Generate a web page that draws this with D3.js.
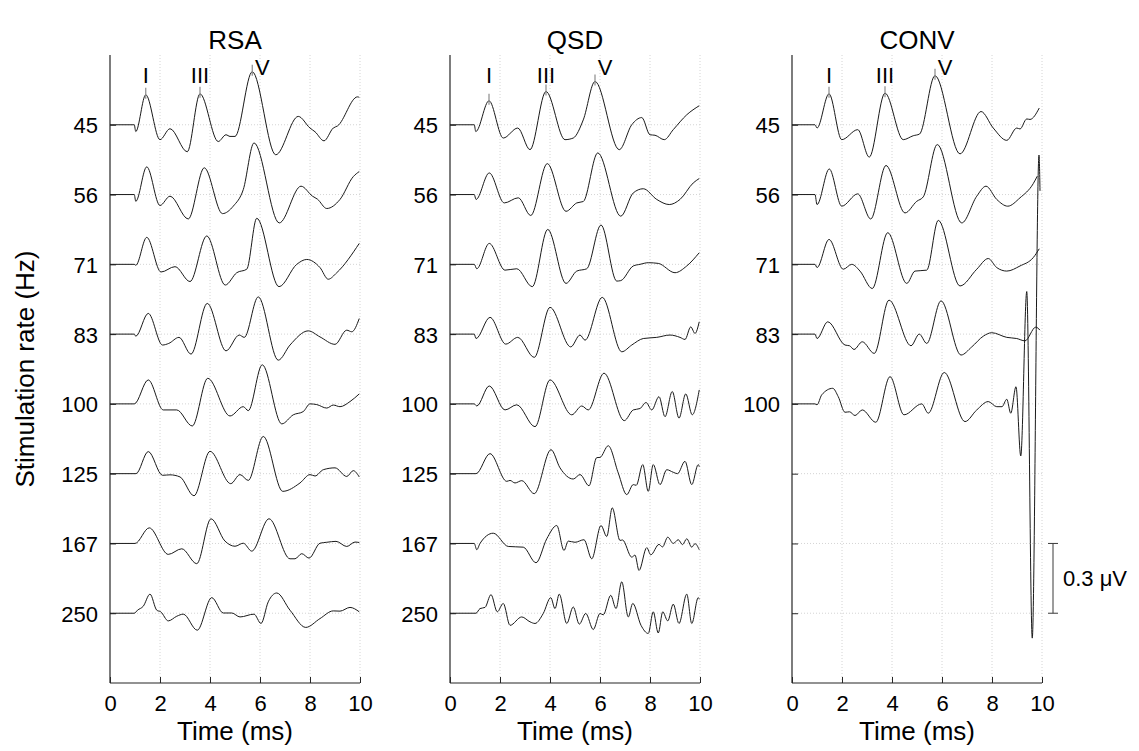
<!DOCTYPE html>
<html><head><meta charset="utf-8">
<script src="https://cdn.jsdelivr.net/npm/d3@7"></script>
<style>
body{margin:0;background:#fff}
svg{display:block}
text{font-family:"Liberation Sans",Arial,Helvetica,sans-serif;fill:#000}
</style>
</head><body>
<svg id="c" width="1139" height="751"></svg>
<script>
// ---------- data ----------
const rates = ["45","56","71","83","100","125","167","250"];
const panelTitles = ["RSA","QSD","CONV"];
const xTickValues = [0,2,4,6,8,10];
const scaleBarMicroVolt = 0.3;
const peakLabels = ["I","III","V"];

// waveforms: [time (ms), amplitude (µV)]
const rsa45 = [[0,0],[0.97,0],[1.03,-.029],[1.43,.129],[2.0,-.064],[2.4,-.017],[3.09,-.116],[3.6,.133],[4.33,-.072],[4.64,-.043],[4.8,-.05],[5.0,-.05],[5.69,.228],[6.63,-.129],[7.53,.036],[8.0,-.014],[8.2,-.03],[8.56,-.069],[8.93,-.014],[9.1,-.005],[9.9,.12],[9.97,.118]];
const rsa56 = [[0,0],[0.97,0],[1.03,-.029],[1.47,.119],[2.0,-.047],[2.4,-.007],[3.13,-.105],[3.77,.115],[4.5,-.082],[4.93,-.05],[5.33,.021],[5.76,.222],[6.77,-.122],[7.64,.036],[8.1,-.007],[8.3,-.02],[8.67,-.06],[9.2,-.021],[9.73,.077],[9.97,.099]];
const rsa71 = [[0,0],[0.97,0],[1.03,-.004],[1.47,.116],[2.04,-.033],[2.6,-.01],[3.2,-.074],[3.87,.122],[4.61,-.089],[5.07,-.036],[5.47,-.021],[5.87,.198],[6.76,-.096],[7.47,0],[7.87,.021],[8.4,-.014],[8.73,-.064],[9.07,-.036],[9.97,.09]];
const rsa83 = [[0,0],[0.97,0],[1.03,-.009],[1.53,.089],[2.1,-.047],[2.35,-.04],[2.76,-.014],[3.24,-.086],[3.89,.132],[4.64,-.072],[5.17,-.004],[5.37,-.014],[5.93,.16],[6.73,-.112],[7.2,-.047],[7.93,.014],[8.4,-.012],[9.0,-.044],[9.47,.017],[9.67,.01],[9.97,.067]];
const rsa100 = [[0,0],[0.97,0],[1.53,.103],[2.13,-.026],[2.67,-.026],[3.29,-.095],[3.91,.11],[4.8,-.052],[5.33,-.012],[5.53,-.029],[6.09,.168],[6.87,-.086],[7.33,-.047],[7.73,-.033],[8.0,0],[8.27,-.003],[8.67,-.018],[8.93,-.005],[9.2,-.012],[9.6,.01],[9.97,.043]];
const rsa125 = [[0,0],[1.04,0],[1.53,.095],[2.1,-.007],[2.4,-.005],[2.8,-.014],[3.36,-.095],[4.0,.096],[4.83,-.043],[5.2,-.004],[5.53,-.029],[6.13,.16],[6.91,-.076],[7.6,-.04],[8.0,-.004],[8.2,-.01],[8.53,.017],[9.0,.025],[9.47,-.012],[9.73,.013],[9.97,-.014]];
const rsa167 = [[0,0],[1.0,0],[1.57,.067],[2.33,-.047],[2.87,-.023],[3.47,-.087],[4.04,.106],[4.6,.01],[5.0,-.012],[5.33,.001],[5.67,-.033],[6.36,.106],[7.2,-.066],[7.4,-.066],[7.67,-.044],[7.96,-.063],[8.4,.001],[8.67,.005],[9.04,.009],[9.47,-.013],[9.8,.006],[9.97,.004]];
const rsa250 = [[0,0],[0.97,0],[1.1,.013],[1.33,.03],[1.6,.082],[1.87,.013],[2.03,.006],[2.33,-.033],[2.67,-.013],[2.93,-.004],[3.49,-.073],[4.07,.067],[4.53,.001],[4.87,.001],[5.2,-.016],[5.76,-.004],[6.04,-.044],[6.33,.049],[6.67,.087],[7.2,.013],[7.83,-.061],[8.4,-.023],[8.93,.01],[9.2,.009],[9.6,.025],[9.97,.006]];

const qsd45 = [[0,0],[0.97,0],[1.03,-.029],[1.56,.103],[2.13,-.057],[2.71,-.014],[3.2,-.107],[3.84,.143],[4.6,-.064],[4.93,-.057],[5.33,.021],[5.8,.186],[6.77,-.107],[7.27,0],[7.67,.031],[8.0,-.043],[8.2,-.045],[8.57,-.064],[8.93,-.021],[9.47,.043],[9.97,.082]];
const qsd56 = [[0,0],[0.97,0],[1.04,-.021],[1.57,.093],[2.17,-.036],[2.73,-.014],[3.23,-.09],[3.89,.133],[4.64,-.072],[5.07,-.036],[5.33,-.03],[5.91,.179],[6.83,-.093],[7.33,.007],[7.73,.025],[8.27,-.021],[8.77,-.043],[9.2,-.021],[9.73,.05],[9.97,.069]];
const qsd71 = [[0,0],[0.97,0],[1.07,-.019],[1.57,.09],[2.2,-.025],[2.67,-.019],[3.29,-.096],[3.91,.15],[4.64,-.082],[5.07,-.029],[5.47,-.019],[6.04,.169],[6.67,-.072],[6.83,-.07],[7.33,-.007],[7.6,0],[7.93,.007],[8.33,.004],[9.0,-.036],[9.47,-.007],[9.97,.05]];
const qsd83 = [[0,0],[0.97,0],[1.04,-.019],[1.6,.072],[2.23,-.043],[2.71,-.014],[3.37,-.1],[4.0,.115],[4.83,-.055],[5.2,-.004],[5.4,-.026],[6.09,.158],[6.87,-.076],[7.27,-.047],[7.73,-.019],[8.27,-.014],[8.8,-.004],[9.2,-.014],[9.4,-.023],[9.63,.031],[9.8,.003],[9.97,.053]];
const qsd100 = [[0,0],[0.97,0],[1.07,-.009],[1.57,.077],[2.2,-.026],[2.67,-.004],[3.4,-.098],[4.0,.103],[4.87,-.047],[5.27,-.009],[5.53,-.026],[6.16,.132],[6.97,-.072],[7.33,-.026],[7.6,-.02],[7.84,.006],[8.07,-.026],[8.36,.031],[8.6,-.055],[8.89,.053],[9.16,-.061],[9.43,.043],[9.69,-.047],[9.97,.06]];
const qsd125 = [[0,0],[1.04,0],[1.6,.086],[2.27,-.033],[2.4,-.029],[2.6,-.04],[2.87,-.03],[3.37,-.086],[4.04,.103],[4.4,.025],[4.93,-.023],[5.2,-.004],[5.56,-.052],[5.87,.069],[6.0,.07],[6.33,.12],[6.73,.003],[7.07,-.09],[7.33,-.047],[7.45,-.05],[7.71,.039],[7.93,-.076],[8.13,.039],[8.4,-.047],[8.67,.017],[8.93,.006],[9.1,0],[9.4,.053],[9.67,-.047],[9.93,.039],[9.97,.03]];
const qsd167 = [[0,0],[0.97,0],[1.07,-.027],[1.2,0],[1.73,.044],[2.33,-.013],[2.93,-.016],[3.44,-.083],[3.87,.02],[4.27,.077],[4.56,-.03],[4.73,.01],[5.0,.005],[5.36,.016],[5.67,-.066],[6.04,.077],[6.27,.03],[6.49,.153],[6.8,.013],[6.9,.015],[7.27,-.059],[7.4,-.05],[7.56,-.116],[7.87,-.018],[8.03,-.049],[8.36,-.004],[8.5,-.015],[8.71,.027],[8.93,0],[9.13,.016],[9.3,-.005],[9.47,.02],[9.67,-.016],[9.8,-.001],[9.97,-.027]];
const qsd250 = [[0,0],[1.04,0],[1.2,.02],[1.4,.025],[1.64,.08],[1.89,.006],[2.13,.042],[2.4,-.052],[2.87,-.016],[3.2,-.037],[3.4,-.044],[3.73,-.001],[4.03,.067],[4.2,.02],[4.37,.082],[4.67,-.044],[4.93,.027],[5.17,-.047],[5.43,-.001],[5.73,-.07],[6.0,-.001],[6.13,-.007],[6.43,.077],[6.64,.02],[6.87,.135],[7.13,-.016],[7.31,.042],[7.64,-.052],[7.93,-.087],[8.13,.006],[8.33,-.085],[8.51,.006],[8.71,-.033],[8.93,.039],[9.16,-.044],[9.47,.082],[9.67,-.044],[9.93,.067],[9.97,.06]];

const conv45 = [[0,0],[0.92,0],[1.0,-.014],[1.48,.133],[1.99,-.064],[2.63,-.021],[3.09,-.139],[3.72,.136],[4.45,-.064],[4.85,-.047],[5.1,-.04],[5.72,.211],[6.72,-.125],[7.56,.057],[8.05,-.014],[8.59,-.067],[8.99,-.014],[9.12,-.018],[9.39,.025],[9.52,.023],[9.89,.072]];
const conv56 = [[0,0],[0.92,0],[1.0,-.043],[1.49,.11],[1.99,-.05],[2.63,.003],[3.15,-.105],[3.76,.125],[4.52,-.079],[4.99,-.029],[5.25,-.01],[5.81,.215],[6.79,-.122],[7.39,-.007],[7.76,.036],[8.19,-.021],[8.63,-.05],[9.12,-.014],[9.65,.047],[9.81,.079]];
const conv71 = [[0,0],[0.92,0],[1.0,-.014],[1.48,.107],[2.05,-.021],[2.39,0],[2.72,-.029],[3.21,-.104],[3.83,.136],[4.59,-.082],[4.92,-.029],[5.39,-.025],[5.85,.189],[6.72,-.093],[7.39,-.021],[7.85,.025],[8.19,-.014],[8.59,-.029],[9.12,-.007],[9.65,.029],[9.89,.067]];
const conv83 = [[0,0],[0.92,0],[1.0,-.019],[1.43,.053],[2.12,-.047],[2.3,-.05],[2.48,-.066],[2.81,-.033],[3.29,-.083],[3.88,.146],[4.76,-.05],[5.09,0],[5.39,-.04],[5.96,.143],[6.76,-.09],[7.19,-.055],[7.65,-.009],[7.99,.006],[8.59,-.014],[8.99,-.019],[9.32,-.029],[9.75,.03],[9.92,.017]];
const conv100 = [[0,0],[0.92,0],[1.0,-.004],[1.19,.039],[1.63,.067],[1.85,.031],[2.12,-.036],[2.3,-.034],[2.52,-.05],[2.81,-.026],[3.35,-.079],[3.92,.117],[4.48,-.047],[5.19,0],[5.45,-.04],[6.09,.135],[6.92,-.076],[7.39,-.026],[7.85,.01],[8.19,-.012],[8.4,-.012],[8.59,.02],[8.75,-.04],[8.96,.074],[9.15,-.224],[9.39,.483],[9.61,-1.007],[9.88,1.07],[9.92,.916]];

const rsaSeries = [rsa45,rsa56,rsa71,rsa83,rsa100,rsa125,rsa167,rsa250];
const qsdSeries = [qsd45,qsd56,qsd71,qsd83,qsd100,qsd125,qsd167,qsd250];
const convSeries = [conv45,conv56,conv71,conv83,conv100];

// latencies (ms) of waves I, III, V marked on the 45 Hz trace
const rsaPeaks = [1.43,3.6,5.69];
const qsdPeaks = [1.56,3.84,5.8];
const convPeaks = [1.48,3.72,5.72];

// ---------- drawing ----------
const svg = d3.select("#c");
const plotTop = 55, plotBottom = 683;
const panelLeft = [110, 450, 792];
const panelW = 250;
const y = d3.scaleLinear().domain([0, rates.length + 1]).range([plotTop, plotBottom]);
const axisColor = "#262626";
const gridColor = "#d4d4d4";
const tickFont = 22, labelFont = 26;

const panelData = [
  {title: panelTitles[0], series: rsaSeries, peaks: rsaPeaks, showAllLabels: true},
  {title: panelTitles[1], series: qsdSeries, peaks: qsdPeaks, showAllLabels: true},
  {title: panelTitles[2], series: convSeries, peaks: convPeaks, showAllLabels: false}
];

panelData.forEach((p, pi) => {
  const x = d3.scaleLinear().domain([0, 10]).range([panelLeft[pi], panelLeft[pi] + panelW]);
  const g = svg.append("g");

  // grid
  g.append("g").selectAll("line").data(xTickValues.filter(v => v > 0)).join("line")
    .attr("x1", d => x(d)).attr("x2", d => x(d)).attr("y1", plotTop).attr("y2", plotBottom)
    .attr("stroke", gridColor).attr("stroke-width", 1).attr("stroke-dasharray", "1,2");
  g.append("g").selectAll("line").data(rates).join("line")
    .attr("x1", x(0)).attr("x2", x(10)).attr("y1", (d, i) => y(i + 1)).attr("y2", (d, i) => y(i + 1))
    .attr("stroke", gridColor).attr("stroke-width", 1).attr("stroke-dasharray", "1,2");

  // axes
  const yAxis = d3.axisLeft(y).tickValues(d3.range(1, rates.length + 1))
    .tickFormat(i => (p.showAllLabels || i <= p.series.length) ? rates[i - 1] : "")
    .tickSize(-6).tickPadding(12);
  const ya = g.append("g").attr("transform", `translate(${x(0)},0)`).call(yAxis);
  const xAxis = d3.axisBottom(x).tickValues(xTickValues).tickFormat(d3.format("d"))
    .tickSize(-6).tickPadding(8);
  const xa = g.append("g").attr("transform", `translate(0,${plotBottom})`).call(xAxis);
  [ya, xa].forEach(a => {
    a.select(".domain").attr("stroke", axisColor).attr("stroke-width", 1.2);
    a.selectAll(".tick line").attr("stroke", axisColor);
    a.selectAll(".tick text").attr("font-size", tickFont).attr("fill", "#000")
      .attr("font-family", '"Liberation Sans",Arial,sans-serif');
  });
  ya.select(".domain").attr("d", `M0,${plotTop}V${plotBottom}`);
  xa.select(".domain").attr("d", `M${x(0)},0H${x(10)}`);
  ya.selectAll(".tick text").attr("dy", "0.36em");
  xa.selectAll(".tick text").attr("dy", "0.9em");

  // waveforms
  p.series.forEach((s, ri) => {
    const line = d3.line()
      .x(d => x(d[0]))
      .y(d => y(ri + 1 - d[1] / scaleBarMicroVolt))
      .curve(d3.curveMonotoneX);
    g.append("path").datum(s).attr("d", line)
      .attr("fill", "none").attr("stroke", "#1a1a1a").attr("stroke-width", 1)
      .attr("stroke-linejoin", "round");
  });

  // peak markers on top trace
  const s0 = p.series[0];
  p.peaks.forEach((t, k) => {
    const pt = s0.reduce((a, b) => Math.abs(b[0] - t) < Math.abs(a[0] - t) ? b : a);
    const py = y(1 - pt[1] / scaleBarMicroVolt);
    g.append("line").attr("x1", x(t)).attr("x2", x(t)).attr("y1", py - 7).attr("y2", py + 4)
      .attr("stroke", "#8a8a8a").attr("stroke-width", 1.2);
    const isV = k === 2;
    g.append("text")
      .attr("x", x(t) + (isV ? 10 : 0))
      .attr("y", isV ? 75 : 83)
      .attr("text-anchor", "middle").attr("font-size", tickFont)
      .text(peakLabels[k]);
  });

  // title
  g.append("text").attr("x", x(5)).attr("y", 49).attr("text-anchor", "middle")
    .attr("font-size", labelFont).text(p.title);
  // x label
  g.append("text").attr("x", x(5)).attr("y", 740).attr("text-anchor", "middle")
    .attr("font-size", labelFont).text("Time (ms)");

  // scale bar in last panel
  if (pi === 2) {
    const bx = x(10) + 11;
    const y1 = y(rates.length - 1), y2 = y(rates.length - 1 + scaleBarMicroVolt / scaleBarMicroVolt);
    const sb = g.append("g").attr("stroke", "#3a3a3a").attr("stroke-width", 1);
    sb.append("line").attr("x1", bx).attr("x2", bx).attr("y1", y1).attr("y2", y2);
    sb.append("line").attr("x1", bx - 5).attr("x2", bx + 5).attr("y1", y1).attr("y2", y1);
    sb.append("line").attr("x1", bx - 5).attr("x2", bx + 5).attr("y1", y2).attr("y2", y2);
    g.append("text").attr("x", bx + 10).attr("y", (y1 + y2) / 2 + 8).attr("font-size", tickFont)
      .text(scaleBarMicroVolt + " \u03BCV");
  }
});

// y label
svg.append("text").attr("transform", `translate(34,${(plotTop + plotBottom) / 2}) rotate(-90)`)
  .attr("text-anchor", "middle").attr("font-size", labelFont).text("Stimulation rate (Hz)");
</script>
</body></html>
